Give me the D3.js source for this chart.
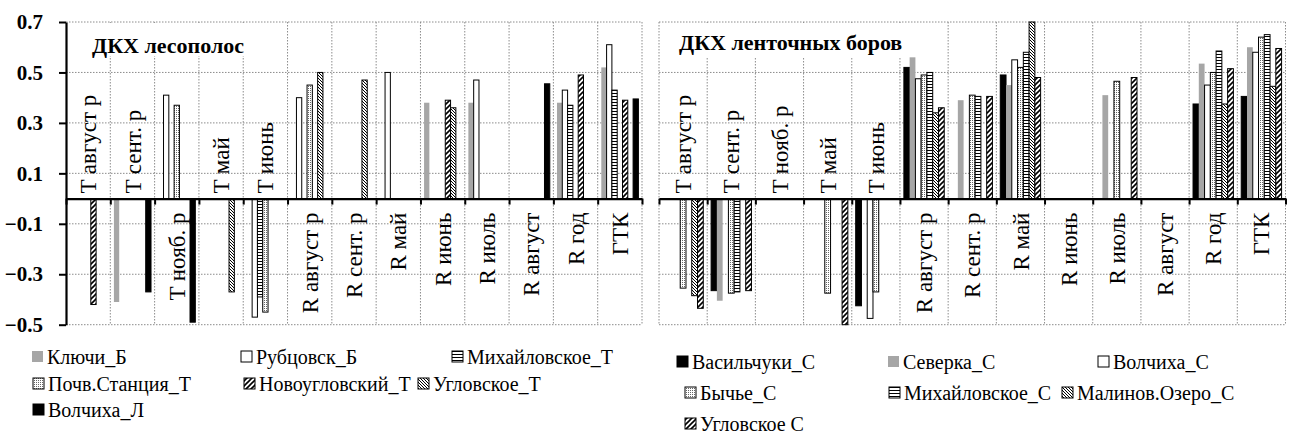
<!DOCTYPE html>
<html><head><meta charset="utf-8">
<script src="https://cdn.jsdelivr.net/npm/d3@7"></script>
<style>html,body{margin:0;padding:0;background:#fff;}</style></head>
<body><svg id="c" width="1295" height="439"></svg>
<svg id="m" width="600" height="50" style="position:absolute;left:0;top:0;visibility:hidden"></svg>
<script>
// ---------- DATA ----------
const categories = ["T август р","T сент. р","T нояб. р","T май","T июнь","R август р","R сент. р","R май","R июнь","R июль","R август","R год","ГТК"];
const yTickValues = [-0.5,-0.3,-0.1,0.1,0.3,0.5,0.7];

// left panel: ДКХ лесополос
const leftTitle = "ДКХ лесополос";
const leftNames = ["Ключи_Б","Рубцовск_Б","Михайловское_Т","Почв.Станция_Т","Новоугловский_Т","Угловское_Т","Волчиха_Л"];
const kluchiB      = [null,-0.41,null,null,null,null,null,null,0.38,0.38,null,0.38,0.52];
const rubtsovskB   = [null,null,0.41,null,-0.47,0.40,null,0.50,null,0.47,null,0.43,0.61];
const mikhT        = [null,null,null,null,-0.39,null,null,null,null,null,null,0.37,0.43];
const pochvT       = [null,null,0.37,null,-0.45,0.45,null,null,null,null,null,null,null];
const novouglT     = [-0.42,null,null,null,null,null,null,null,0.39,null,null,0.49,0.39];
const uglovT       = [null,null,null,-0.37,null,0.50,0.47,null,0.36,null,null,null,null];
const volchL       = [null,-0.37,-0.49,null,null,null,null,null,null,null,0.455,null,0.395];

// right panel: ДКХ ленточных боров
const rightTitle = "ДКХ ленточных боров";
const rightNames = ["Васильчуки_С","Северка_С","Волчиха_С","Бычье_С","Михайловское_С","Малинов.Озеро_С","Угловское С"];
const vasilC   = [null,-0.365,null,null,-0.425,0.52,null,0.49,null,null,null,0.375,0.405];
const severC   = [null,-0.405,null,null,null,0.56,0.39,0.45,null,0.41,null,0.535,0.60];
const volchC   = [null,null,null,null,-0.475,0.475,null,0.55,null,null,null,0.45,0.58];
const bychC    = [-0.355,-0.375,null,-0.375,-0.37,0.49,0.41,0.52,null,0.465,null,0.50,0.64];
const mikhC    = [null,-0.37,null,null,null,0.50,0.405,0.58,null,null,null,0.585,0.65];
const malinC   = [-0.385,null,null,null,null,0.34,null,0.70,null,null,null,0.375,0.445];
const uglovC   = [-0.435,-0.365,null,-0.50,null,0.36,0.405,0.48,null,0.48,null,0.515,0.595];

// ---------- LAYOUT / STYLE ----------
const FONT = "Liberation Serif";
const leftStyles  = ["gray","white","hlines","dots","diagWide","diagDense","black"];
const rightStyles = ["black","gray","white","dots","hlines","diagDense","diagWide"];
const leftAbove  = [1,1,0,1,1,0,0,0,0,0,0,0,0];
const rightAbove = [1,1,1,1,1,0,0,0,0,0,0,0,0];

// measuring in a separate hidden svg
const msvg = d3.select("#m");
function measure(str, weight){
  const t = msvg.append("text").attr("x",0).attr("y",30).attr("font-family",FONT).attr("font-weight",weight||"normal").attr("font-size",20).text(str);
  return t.node().getComputedTextLength();
}
const catFS   = Math.round(20*101/measure("T август р"));
const tickFS  = Math.round(20*26/measure("0.7","bold"));
const titleFS = Math.round(20*155/measure("ДКХ лесополос","bold"));
const legFS   = Math.floor(Math.min(20*163/measure("Михайловское_Т"), 20*157/measure("Новоугловский_Т"), 20*155/measure("Михайловское_С")));

const svg = d3.select("#c");
const defs = svg.append("defs");
function pat(id,w,h,draw){
  const p = defs.append("pattern").attr("id",id).attr("patternUnits","userSpaceOnUse").attr("width",w).attr("height",h);
  p.append("rect").attr("width",w).attr("height",h).attr("fill","#fff");
  draw(p);
}
pat("hlines",4,3,p=>p.append("rect").attr("y",0).attr("width",4).attr("height",1).attr("fill","#000"));
pat("dots",2,2,p=>p.append("rect").attr("width",1).attr("height",1).attr("fill","#666"));
pat("diagWide",5,5,p=>p.append("path").attr("d","M0,5L5,0M-1,1L1,-1M4,6L6,4").attr("stroke","#000").attr("stroke-width",1.6));
pat("diagDense",3,3,p=>p.append("path").attr("d","M0,0L3,3M-1,2L1,4M2,-1L4,1").attr("stroke","#000").attr("stroke-width",1));

const fillOf = s => s==="gray"?"#a6a6a6":s==="black"?"#000":s==="white"?"#fff":`url(#${s})`;
const strokeOf = s => s==="gray"?"none":"#000";

const y = d3.scaleLinear().domain([-0.5,0.7]).range([324.7,22]);
const gridColor = "#8c8c8c";

function panel(cfg){
  const x0 = d3.scaleBand().domain(categories).range([cfg.x0,cfg.x1]).paddingInner(0).paddingOuter(0);
  const x1 = d3.scaleBand().domain(cfg.names).range([0,x0.bandwidth()]).paddingInner(0).paddingOuter(0.68);
  const xi = d3.scaleLinear().domain([0,categories.length]).range([cfg.x0,cfg.x1]);
  const g = svg.append("g");
  g.append("g").selectAll("line").data(yTickValues).join("line")
    .attr("x1",cfg.x0).attr("x2",cfg.x1).attr("y1",d=>y(d)).attr("y2",d=>y(d))
    .attr("stroke",gridColor).attr("stroke-width",1).attr("stroke-dasharray","1.5,1.5");
  g.append("g").selectAll("line").data(d3.range(cfg.leftSolid?1:0,categories.length+1)).join("line")
    .attr("x1",d=>xi(d)).attr("x2",d=>xi(d)).attr("y1",y(0.7)).attr("y2",y(-0.5))
    .attr("stroke",gridColor).attr("stroke-width",1).attr("stroke-dasharray","1.5,1.5");
  g.append("rect").attr("x",cfg.x0+1).attr("y",y(0.7)+1).attr("width",cfg.boxW).attr("height",cfg.boxH).attr("fill","#fff");
  const rows = [];
  cfg.series.forEach((vals,si)=>vals.forEach((v,ci)=>{ if(v!==null) rows.push({cat:categories[ci],name:cfg.names[si],v,style:cfg.styles[si]}); }));
  g.append("g").selectAll("rect").data(rows).join("rect")
    .attr("x",d=>x0(d.cat)+x1(d.name)).attr("width",x1.bandwidth())
    .attr("y",d=>y(Math.max(0,d.v))).attr("height",d=>Math.abs(y(d.v)-y(0)))
    .attr("fill",d=>fillOf(d.style)).attr("stroke",d=>strokeOf(d.style)).attr("stroke-width",1);
  const ax = g.append("g").attr("transform",`translate(0,${y(0)})`)
    .call(d3.axisBottom(xi).tickValues(d3.range(0,categories.length+1)).tickFormat("").tickSizeInner(6).tickSizeOuter(0));
  ax.attr("font-family",null);
  ax.select(".domain").attr("stroke","#000").attr("stroke-width",2.2);
  ax.selectAll(".tick line").attr("stroke","#000").attr("stroke-width",2);
  if(cfg.yAxis){
    const ya = g.append("g").attr("transform",`translate(${cfg.x0},0)`)
      .call(d3.axisLeft(y).tickValues(yTickValues).tickFormat(d3.format(".1f")).tickSizeInner(7).tickSizeOuter(0).tickPadding(16));
    ya.attr("font-family",FONT).attr("font-size",tickFS).attr("font-weight","bold");
    ya.select(".domain").attr("stroke","#000").attr("stroke-width",2.2);
    ya.selectAll(".tick line").attr("stroke","#000").attr("stroke-width",2);
    ya.selectAll(".tick text").attr("font-family",FONT).attr("font-size",tickFS).attr("font-weight","bold").attr("fill","#000");
  }
  // texts appended straight to the svg root
  svg.append("text").attr("x",cfg.titleX).attr("y",cfg.titleY).attr("font-family",FONT).attr("font-size",titleFS).attr("font-weight","bold").text(cfg.title);
  categories.forEach((d,i)=>{
    svg.append("text")
      .attr("transform",`translate(${x0(d)+x0.bandwidth()/2},${cfg.above[i]?y(0)-5:y(0)+14}) rotate(-90)`)
      .attr("text-anchor",cfg.above[i]?"start":"end")
      .attr("dy","0.35em").attr("font-family",FONT).attr("font-size",catFS).text(d);
  });
  cfg.names.forEach((n,i)=>{
    const c = i%3, r = Math.floor(i/3);
    const lx = cfg.legX[r][c], ly = cfg.legY[r];
    const s = cfg.styles[i];
    svg.append("rect").attr("x",lx).attr("y",ly-6).attr("width",11).attr("height",11)
      .attr("fill",fillOf(s)).attr("stroke",strokeOf(s)).attr("stroke-width",1);
    svg.append("text").attr("x",lx+15).attr("y",ly).attr("dy","0.33em").attr("font-family",FONT).attr("font-size",legFS).text(n);
  });
}

panel({x0:66,x1:642,names:leftNames,styles:leftStyles,series:[kluchiB,rubtsovskB,mikhT,pochvT,novouglT,uglovT,volchL],
  above:leftAbove,title:leftTitle,titleX:92,titleY:53,boxW:205,boxH:33,yAxis:true,leftSolid:true,
  legX:[[32,241,452],[33,244,418],[33]],legY:[357,384,410]});
panel({x0:659,x1:1285.5,names:rightNames,styles:rightStyles,series:[vasilC,severC,volchC,bychC,mikhC,malinC,uglovC],
  above:rightAbove,title:rightTitle,titleX:679,titleY:50,boxW:250,boxH:34,yAxis:false,leftSolid:false,
  legX:[[677,888,1098],[685,889,1062],[685]],legY:[362,393,424]});
</script></body></html>
